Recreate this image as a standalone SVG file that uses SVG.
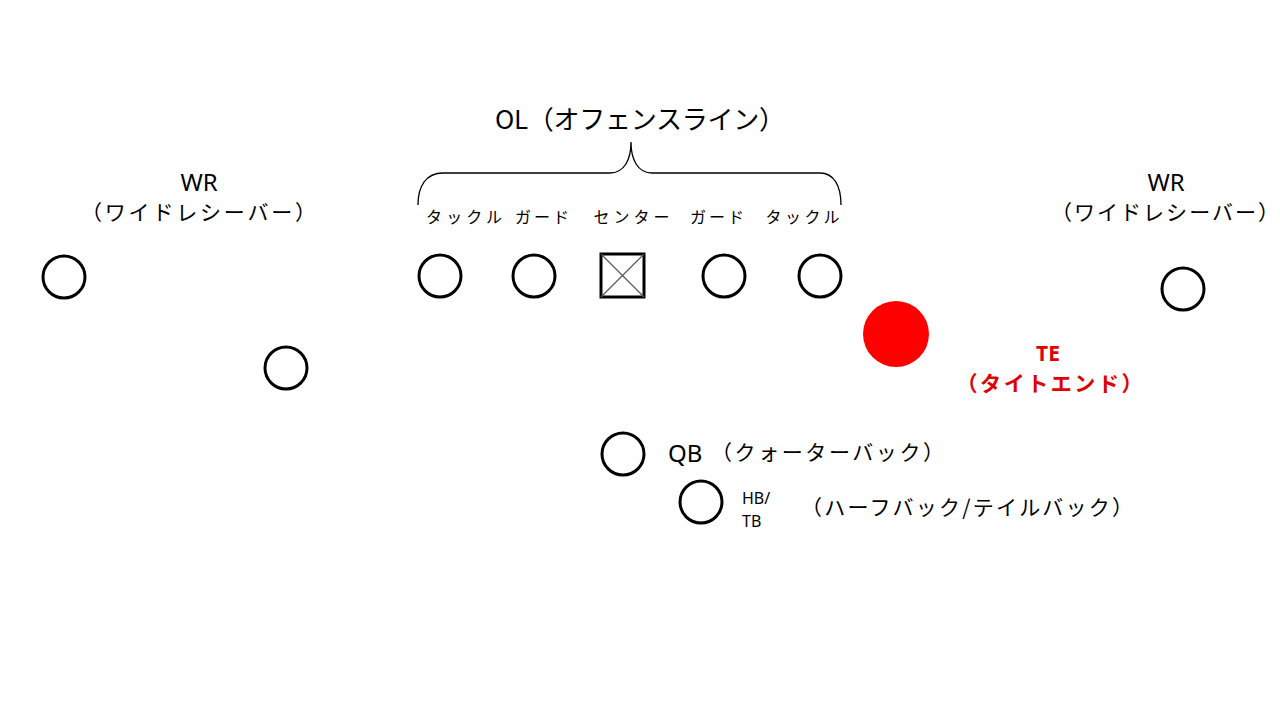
<svg xmlns="http://www.w3.org/2000/svg" width="1280" height="720" viewBox="0 0 1280 720">
<style>
text{font-family:"Noto Sans CJK JP","Noto Sans",sans-serif;fill:#000}
.lat{font-family:"Noto Sans","Noto Sans CJK JP",sans-serif}
.p{fill:#fff;stroke:#000;stroke-width:3}
.lbl{font-size:16px;text-anchor:middle}
.big{font-size:21px}
.te{fill:#e00000;font-weight:bold;font-size:21px;text-anchor:middle}
</style>
<rect width="1280" height="720" fill="#fff"/>
<g id="connectors">
<path d="M418,205 C418,186 426,173 443,173 L610,173 C624,173 631,160 631,142 C631,160 638,173 652,173 L820,173 C834,173 841,186 841,205" fill="none" stroke="#000" stroke-width="1.3"/>
</g>
<g id="ol-title"><text x="640" y="129" text-anchor="middle" font-size="26" textLength="290" lengthAdjust="spacing">OL（オフェンスライン）</text></g>
<g id="lt"><text class="lbl" x="464" y="223" textLength="76" lengthAdjust="spacing">タックル</text><circle class="p" cx="440" cy="276" r="21"/></g>
<g id="lg"><text class="lbl" x="542" y="223" textLength="54" lengthAdjust="spacing">ガード</text><circle class="p" cx="534" cy="276" r="21"/></g>
<g id="c"><text class="lbl" x="631.5" y="223" textLength="76" lengthAdjust="spacing">センター</text>
<rect x="601" y="254" width="43" height="43" fill="#fff" stroke="#000" stroke-width="3"/>
<path d="M601,254 L644,297 M644,254 L601,297" stroke="#555" stroke-width="1.2"/></g>
<g id="rg"><text class="lbl" x="717" y="223" textLength="54" lengthAdjust="spacing">ガード</text><circle class="p" cx="724" cy="276" r="21"/></g>
<g id="rt"><text class="lbl" x="802.5" y="223" textLength="74" lengthAdjust="spacing">タックル</text><circle class="p" cx="820" cy="276" r="21"/></g>
<g id="wr-left"><text class="lat" x="199" y="191" text-anchor="middle" font-size="24">WR</text><text class="big" x="198.5" y="220" text-anchor="middle" textLength="235" lengthAdjust="spacing">（ワイドレシーバー）</text><circle class="p" cx="64" cy="277" r="21"/></g>
<g id="slot"><circle class="p" cx="286" cy="368" r="21"/></g>
<g id="wr-right"><text class="lat" x="1166" y="191" text-anchor="middle" font-size="24">WR</text><text class="big" x="1165" y="220" text-anchor="middle" textLength="228" lengthAdjust="spacing">（ワイドレシーバー）</text><circle class="p" cx="1183" cy="289" r="21"/></g>
<g id="te"><circle cx="896" cy="334" r="33" fill="#ff0000"/><text class="te lat" x="1048" y="361" font-size="20">TE</text><text class="te" x="1049.5" y="391" textLength="186" lengthAdjust="spacing">（タイトエンド）</text></g>
<g id="qb"><circle class="p" cx="623" cy="454" r="21"/><text class="lat" x="668" y="462" font-size="24">QB</text><text class="big" x="827.5" y="460" text-anchor="middle" textLength="233" lengthAdjust="spacing">（クォーターバック）</text></g>
<g id="hb"><circle class="p" cx="701" cy="502" r="21"/><text class="lat" x="742" y="504" font-size="16">HB/</text><text class="lat" x="742" y="527" font-size="16">TB</text><text class="big" x="967" y="515" text-anchor="middle" textLength="332" lengthAdjust="spacing">（ハーフバック/テイルバック）</text></g>
</svg>
